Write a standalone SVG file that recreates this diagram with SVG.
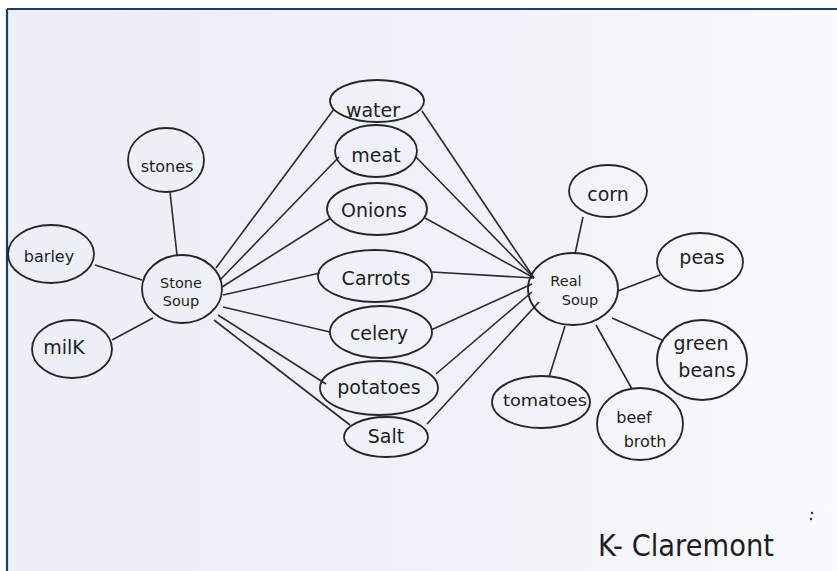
<svg xmlns="http://www.w3.org/2000/svg" width="837" height="571" viewBox="0 0 837 571">
<defs>
<linearGradient id="paper" x1="0" y1="0" x2="1" y2="0">
<stop offset="0" stop-color="#eceff7"/>
<stop offset="0.6" stop-color="#f1f2f9"/>
<stop offset="1" stop-color="#fafafc"/>
</linearGradient>
<style>
.n{fill:none;stroke:#262626;stroke-width:1.8}
.e line{stroke:#2b2b2b;stroke-width:1.6}
text{font-family:"DejaVu Sans","Liberation Sans",sans-serif;fill:#1e1e1e;text-anchor:middle;font-size:19px}
.s{font-size:16px}
.t{font-size:14.5px}
</style>
</defs>
<rect x="0" y="0" width="837" height="571" fill="#ffffff"/>
<rect x="7" y="9" width="830" height="562" fill="url(#paper)"/>
<line x1="7" y1="9" x2="837" y2="9" stroke="#1d3d6b" stroke-width="2.2"/>
<line x1="7" y1="9" x2="7" y2="571" stroke="#1d3d6b" stroke-width="2.2"/>

<g id="connectors" class="e">
<line x1="170" y1="192" x2="177" y2="255"/>
<line x1="95" y1="265" x2="142" y2="280"/>
<line x1="112" y1="340" x2="153" y2="318"/>
<line x1="216" y1="268" x2="334" y2="109"/>
<line x1="220" y1="280" x2="339" y2="157"/>
<line x1="222" y1="287" x2="331" y2="218"/>
<line x1="223" y1="295" x2="320" y2="273"/>
<line x1="223" y1="307" x2="330" y2="332"/>
<line x1="218" y1="315" x2="326" y2="384"/>
<line x1="214" y1="320" x2="350" y2="425"/>
<line x1="422" y1="111" x2="534" y2="278"/>
<line x1="415" y1="156" x2="534" y2="278"/>
<line x1="425" y1="218" x2="534" y2="278"/>
<line x1="432" y1="272" x2="534" y2="278"/>
<line x1="431" y1="330" x2="532" y2="284"/>
<line x1="436" y1="374" x2="532" y2="292"/>
<line x1="427" y1="424" x2="539" y2="302"/>
<line x1="583" y1="217" x2="575" y2="254"/>
<line x1="618" y1="291" x2="660" y2="275"/>
<line x1="612" y1="318" x2="662" y2="340"/>
<line x1="565" y1="326" x2="549" y2="377"/>
<line x1="596" y1="325" x2="632" y2="389"/>
</g>

<g id="stones"><ellipse class="n" cx="166" cy="160" rx="38" ry="32"/><text x="167" y="172" class="s">stones</text></g>
<g id="barley"><ellipse class="n" cx="51" cy="254" rx="43" ry="29"/><text x="49" y="262" class="s">barley</text></g>
<g id="stone-soup"><ellipse class="n" cx="182" cy="289" rx="40" ry="34"/><text x="181" y="288" class="t">Stone</text><text x="181" y="306" class="t">Soup</text></g>
<g id="milk"><ellipse class="n" cx="72" cy="349" rx="40" ry="29"/><text x="64" y="354">milK</text></g>

<g id="water"><ellipse class="n" cx="377" cy="101" rx="47" ry="21"/><text x="373" y="117">water</text></g>
<g id="meat"><ellipse class="n" cx="376" cy="151" rx="41" ry="26"/><text x="376" y="162">meat</text></g>
<g id="onions"><ellipse class="n" cx="377" cy="209" rx="50" ry="26"/><text x="374" y="217">Onions</text></g>
<g id="carrots"><ellipse class="n" cx="375" cy="276" rx="57" ry="26"/><text x="376" y="285">Carrots</text></g>
<g id="celery"><ellipse class="n" cx="381" cy="332" rx="51" ry="26"/><text x="379" y="340">celery</text></g>
<g id="potatoes"><ellipse class="n" cx="379" cy="388" rx="59" ry="27"/><text x="379" y="394">potatoes</text></g>
<g id="salt"><ellipse class="n" cx="386" cy="437" rx="42" ry="20"/><text x="386" y="443">Salt</text></g>

<g id="real-soup"><ellipse class="n" cx="573" cy="289" rx="45" ry="36"/><text x="566" y="286" class="t">Real</text><text x="580" y="305" class="t">Soup</text></g>
<g id="corn"><ellipse class="n" cx="608" cy="191" rx="39" ry="26"/><text x="608" y="201">corn</text></g>
<g id="peas"><ellipse class="n" cx="700" cy="262" rx="43" ry="29"/><text x="702" y="264">peas</text></g>
<g id="green-beans"><ellipse class="n" cx="702" cy="360" rx="45" ry="40"/><text x="701" y="350">green</text><text x="707" y="377">beans</text></g>
<g id="tomatoes"><ellipse class="n" cx="541" cy="402" rx="49" ry="26"/><text x="545" y="406" class="s" textLength="84" lengthAdjust="spacingAndGlyphs">tomatoes</text></g>
<g id="beef-broth"><ellipse class="n" cx="640" cy="424" rx="43" ry="36"/><text x="634" y="423" class="s">beef</text><text x="645" y="447" class="s">broth</text></g>

<text x="686" y="556" style="font-size:31px" textLength="176" lengthAdjust="spacingAndGlyphs">K- Claremont</text>
<circle cx="812" cy="513" r="1.2" fill="#333"/>
<circle cx="811" cy="519" r="1.2" fill="#333"/>
</svg>
